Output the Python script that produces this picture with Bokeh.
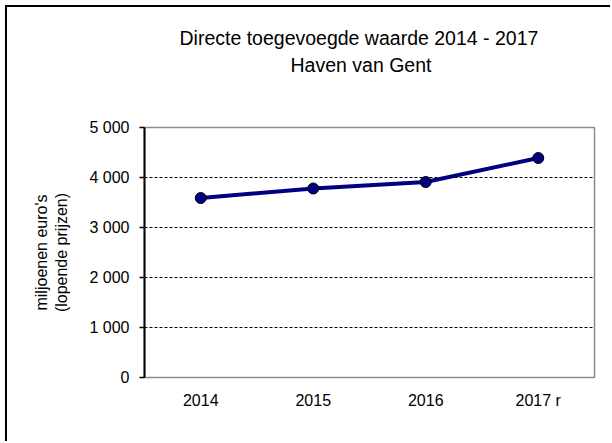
from bokeh.plotting import figure
from bokeh.models import Range1d, FactorRange, FixedTicker, Title, CustomJSTickFormatter
from bokeh.embed import file_html
from bokeh.resources import INLINE

years = ["2014", "2015", "2016", "2017 r"]
waarde = [3590, 3780, 3910, 4390]
y_ticks = [0, 1000, 2000, 3000, 4000, 5000]
grid_ticks = [1000, 2000, 3000, 4000]
title_lines = ["Directe toegevoegde  waarde 2014 - 2017", "Haven van Gent"]
ylabel_lines = ["miljoenen euro's", "(lopende prijzen)"]

FONT = "Liberation Sans"

p = figure(width=605, height=436, x_range=FactorRange(*years, range_padding=0),
           y_range=Range1d(0, 5000), output_backend="svg", toolbar_location=None,
           min_border_left=137, min_border_right=18, min_border_top=120, min_border_bottom=66)
p.styles = {"border-top": "2px solid black", "border-left": "2px solid black",
            "margin-left": "5px", "margin-top": "5px"}

p.background_fill_color = "white"
p.border_fill_color = "white"
p.outline_line_color = "#8c8c8c"
p.outline_line_width = 1.5

p.yaxis.ticker = FixedTicker(ticks=y_ticks)
p.yaxis.formatter = CustomJSTickFormatter(code="return tick == 0 ? '0' : (Math.floor(tick/1000)) + ' ' + String(tick % 1000).padStart(3, '0');")
p.yaxis.axis_line_color = "black"
p.yaxis.axis_line_width = 2
p.yaxis.major_tick_line_color = "black"
p.yaxis.major_tick_line_width = 1.5
p.yaxis.major_tick_out = 5
p.yaxis.major_tick_in = 0
p.yaxis.minor_tick_line_color = None
p.yaxis.major_label_standoff = 10
p.yaxis.major_label_text_font = FONT
p.yaxis.major_label_text_font_size = "16px"
p.yaxis.major_label_text_color = "black"
p.yaxis.axis_label = ylabel_lines[0] + "\n" + ylabel_lines[1]
p.yaxis.axis_label_text_font = FONT
p.yaxis.axis_label_text_font_size = "16px"
p.yaxis.axis_label_text_font_style = "normal"
p.yaxis.axis_label_text_color = "black"
p.yaxis.axis_label_standoff = 16

p.xaxis.axis_line_color = None
p.xaxis.major_tick_line_color = None
p.xaxis.minor_tick_line_color = None
p.xaxis.major_label_standoff = 8
p.xaxis.major_label_text_font = FONT
p.xaxis.major_label_text_font_size = "16px"
p.xaxis.major_label_text_color = "black"

p.xgrid.grid_line_color = None
p.ygrid.ticker = FixedTicker(ticks=grid_ticks)
p.ygrid.grid_line_color = "black"
p.ygrid.grid_line_dash = "3 2"
p.ygrid.grid_line_width = 1

p.line(years, waarde, line_color="#000080", line_width=4)
p.scatter(years, waarde, size=11, fill_color="#000080", line_color="black", line_width=1)

# spacer between plot frame and the two title lines
p.add_layout(Title(text=" ", text_font=FONT, text_font_size="1px", standoff=46), "above")
p.add_layout(Title(text=title_lines[1], align="left", offset=146, standoff=6,
                   text_font=FONT, text_font_size="19.5px", text_font_style="normal",
                   text_color="black"), "above")
p.add_layout(Title(text=title_lines[0], align="left", offset=35, standoff=0,
                   text_font=FONT, text_font_size="19.5px", text_font_style="normal",
                   text_color="black"), "above")

open("out.html", "w").write(file_html(p, INLINE))
